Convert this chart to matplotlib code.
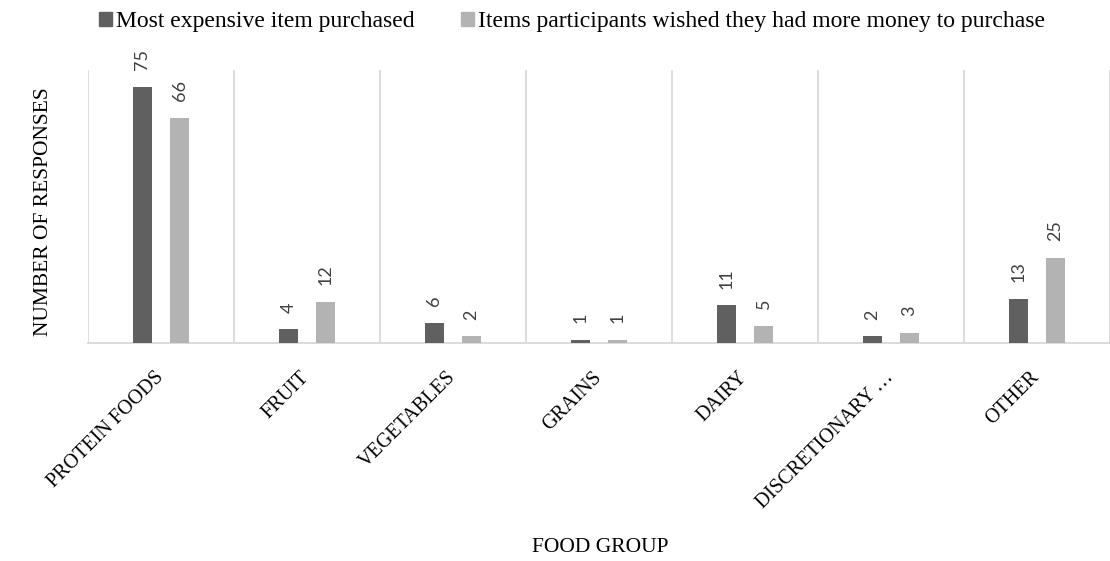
import numpy as np
import matplotlib
matplotlib.use("Agg")
from matplotlib import pyplot as plt
from matplotlib.patches import Patch
from matplotlib.transforms import ScaledTranslation

# data
groups = ['PROTEIN FOODS', 'FRUIT', 'VEGETABLES', 'GRAINS', 'DAIRY',
          'DISCRETIONARY …', 'OTHER']
most_expensive = [75, 4, 6, 1, 11, 2, 13]
wished_more = [66, 12, 2, 1, 5, 3, 25]
series_names = ['Most expensive item purchased',
                'Items participants wished they had more money to purchase']

dark = '#606060'
light = '#b3b3b3'
grid_col = '#d9d9d9'
serif = 'Liberation Serif'

fig = plt.figure(figsize=(11.1, 5.61), dpi=100)
ax = fig.add_axes([88/1110, 1 - 343/561, 1 - 88/1110, (343 - 70)/561])

x = np.arange(len(groups))
w = 0.134
off = 0.127
b1 = ax.bar(x - off, most_expensive, w, color=dark, zorder=3)
b2 = ax.bar(x + off, wished_more, w, color=light, zorder=3)

for bars in (b1, b2):
    for rect in bars:
        h = rect.get_height()
        ax.annotate(f'{h:g}', (rect.get_x() + rect.get_width()/2, h),
                    xytext=(0, 12), textcoords='offset points',
                    rotation=90, ha='center', va='bottom',
                    fontsize=13, family='Lato', color='#404040')

ax.set_xlim(-0.5, len(groups) - 0.5)
ax.set_ylim(0, 80)
ax.set_yticks([])
ax.set_xticks(x)
ax.set_xticklabels(groups, rotation=45, ha='right', va='top',
                   rotation_mode='anchor', family=serif, fontsize=14.5)
ax.tick_params(axis='x', which='major', length=0, pad=18)
shift = ScaledTranslation(-7/100, 0, fig.dpi_scale_trans)
for lab in ax.get_xticklabels():
    lab.set_transform(lab.get_transform() + shift)
ax.set_xticks(np.arange(-0.5, len(groups), 1), minor=True)
ax.tick_params(axis='x', which='minor', length=0)
ax.grid(which='minor', axis='x', color=grid_col, linewidth=1.3, zorder=0)

for s in ['top', 'right', 'left']:
    ax.spines[s].set_visible(False)
ax.spines['bottom'].set_color(grid_col)
ax.spines['bottom'].set_linewidth(1.3)

fig.text(44/1110, 1 - 212/561, 'NUMBER OF RESPONSES', rotation=90,
         ha='center', va='center', family=serif, fontsize=15.5)
fig.text(600/1110, 1 - 548/561, 'FOOD GROUP', ha='center', va='center',
         family=serif, fontsize=15.5)

handles = [Patch(color=dark), Patch(color=light)]
fig.legend(handles, series_names, loc='center', ncol=2,
           bbox_to_anchor=(572/1110, 1 - 22/561), frameon=False,
           prop={'family': serif, 'size': 17}, handlelength=0.55,
           handleheight=0.55, handletextpad=0.15, columnspacing=2.0,
           borderpad=0)

fig.savefig('out.png', dpi=100)
